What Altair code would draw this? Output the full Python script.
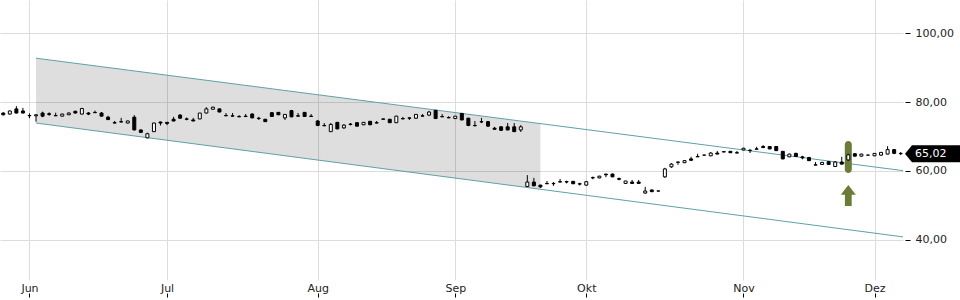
import altair as alt
import pandas as pd

# ---------------- data ----------------
opens = [76.8, 76.5, 78.0, 77.4, 76.1, 76.0, 76.8, 76.6, 76.1, 75.9,
         76.3, 77.3, 76.5, 76.8, 77.0, 76.8, 75.6, 74.0, 74.3, 73.9,
         75.6, 71.9, 69.6, 71.4, 74.2, 74.1, 75.0, 76.2, 75.1, 74.8,
         75.1, 76.8, 77.9, 78.0, 76.1, 76.0, 75.8, 75.9, 76.5, 75.3,
         75.0, 76.9, 77.0, 75.4, 77.5, 76.0, 77.0, 75.9, 74.5, 73.2,
         71.4, 74.1, 72.5, 73.6, 74.0, 73.4, 74.4, 74.0, 75.1, 75.0,
         74.0, 75.2, 75.4, 75.3, 76.0, 76.2, 77.6, 75.8, 75.5, 75.2,
         76.7, 75.3, 73.2, 74.3, 74.3, 72.4, 72.8, 72.8, 72.8, 71.9,
         55.5, 56.8, 55.9, 56.4, 56.4, 56.9, 56.9, 57.0, 56.3, 55.9,
         58.1, 58.0, 59.1, 59.1, 57.8, 56.4, 56.8, 56.8, 53.6, 54.5,
         54.2, 58.3, 61.2, 62.6, 62.4, 63.5, 64.2, 64.6, 64.4, 65.2,
         65.6, 65.7, 65.3, 66.1, 66.0, 66.4, 67.1, 67.1, 67.1, 65.7,
         64.1, 65.1, 64.1, 63.9, 61.8, 61.9, 62.7, 61.3, 62.6, 63.2,
         65.0, 64.3, 64.6, 64.4, 64.6, 64.9, 66.2, 65.1]
highs = [77.0, 77.5, 78.8, 78.3, 76.7, 76.4, 77.2, 77.0, 76.9, 76.6,
         77.0, 77.5, 78.3, 77.1, 77.5, 77.1, 76.0, 74.5, 75.4, 74.6,
         76.2, 72.0, 71.1, 74.0, 74.3, 74.2, 75.7, 76.5, 75.5, 75.4,
         76.8, 78.5, 78.6, 78.1, 76.8, 76.8, 76.2, 76.5, 76.8, 75.7,
         75.1, 77.1, 77.1, 76.5, 77.7, 76.8, 77.1, 76.5, 74.8, 73.9,
         73.9, 74.2, 73.6, 73.9, 74.2, 74.2, 74.5, 74.5, 75.1, 75.1,
         76.0, 75.7, 75.5, 76.5, 76.5, 77.4, 77.7, 76.5, 75.9, 75.9,
         76.8, 75.4, 74.5, 75.4, 74.5, 72.8, 73.0, 73.9, 73.9, 73.3,
         58.8, 58.0, 56.0, 57.1, 56.8, 57.7, 57.2, 57.1, 56.6, 57.1,
         58.4, 58.6, 59.2, 59.3, 58.1, 57.1, 57.4, 57.4, 55.4, 54.6,
         54.3, 60.9, 62.3, 62.7, 63.2, 64.1, 65.0, 64.7, 65.5, 65.8,
         65.8, 65.8, 65.8, 66.7, 66.4, 67.0, 67.5, 67.2, 67.2, 65.8,
         65.0, 65.3, 64.4, 64.1, 62.6, 62.6, 62.9, 62.9, 64.1, 65.0,
         65.2, 65.0, 64.7, 65.2, 65.5, 67.2, 66.4, 65.5]
lows = [76.1, 76.4, 76.7, 76.7, 75.3, 74.3, 75.6, 76.0, 75.9, 75.8,
        76.2, 76.7, 76.4, 76.2, 76.8, 75.8, 74.8, 73.8, 74.1, 73.8,
        71.8, 71.0, 69.5, 71.3, 73.2, 73.3, 74.4, 75.2, 74.7, 74.4,
        75.0, 76.7, 77.9, 77.0, 75.9, 75.8, 75.6, 75.6, 75.3, 74.8,
        74.2, 75.7, 76.2, 74.8, 75.6, 75.8, 75.7, 75.7, 73.0, 73.0,
        71.3, 72.1, 72.2, 73.2, 72.9, 73.3, 73.3, 73.8, 75.0, 73.9,
        73.9, 75.0, 74.8, 75.1, 75.9, 75.9, 75.1, 75.6, 75.3, 75.1,
        74.7, 73.0, 73.0, 73.9, 72.8, 71.9, 71.6, 71.8, 71.3, 71.3,
        55.4, 55.6, 55.1, 56.2, 55.7, 56.7, 56.4, 56.2, 55.8, 55.7,
        57.6, 57.9, 58.2, 58.2, 57.3, 56.3, 56.3, 56.3, 53.4, 53.9,
        54.1, 58.0, 60.9, 61.8, 62.3, 63.0, 64.1, 64.5, 64.3, 64.9,
        65.5, 65.2, 65.2, 66.0, 65.2, 66.3, 66.6, 66.3, 65.8, 63.4,
        64.0, 64.1, 63.4, 62.9, 61.7, 61.8, 61.8, 61.2, 61.9, 63.0,
        64.2, 64.2, 64.5, 64.3, 64.4, 64.8, 64.9, 64.6]
closes = [76.3, 77.4, 76.8, 76.8, 76.0, 76.3, 75.9, 76.4, 76.0, 76.5,
          76.8, 76.8, 78.1, 76.5, 76.9, 75.9, 74.9, 73.9, 74.2, 74.5,
          71.9, 71.2, 70.8, 73.9, 73.9, 73.8, 74.5, 75.3, 75.0, 74.5,
          76.8, 78.0, 78.5, 77.1, 76.0, 75.9, 75.7, 75.8, 75.4, 75.2,
          74.3, 75.8, 76.3, 76.4, 75.7, 75.9, 75.8, 75.8, 73.2, 73.1,
          73.5, 72.2, 73.3, 73.5, 73.0, 74.1, 73.4, 73.9, 75.0, 74.0,
          75.9, 75.1, 75.3, 76.4, 75.9, 77.1, 75.2, 75.7, 75.4, 75.9,
          74.8, 73.2, 73.1, 74.2, 73.0, 72.1, 71.8, 71.9, 71.4, 72.8,
          56.8, 55.7, 55.4, 56.3, 56.3, 56.8, 56.8, 56.3, 56.2, 56.9,
          58.0, 58.5, 58.9, 58.3, 57.6, 57.1, 56.4, 56.4, 54.2, 54.0,
          54.2, 60.6, 62.0, 62.5, 63.0, 63.1, 64.1, 64.6, 65.2, 64.9,
          65.5, 65.3, 65.2, 66.6, 65.9, 66.3, 66.8, 66.4, 65.9, 63.5,
          64.9, 64.2, 63.8, 63.0, 61.7, 62.5, 61.9, 62.6, 62.0, 64.7,
          64.3, 64.9, 64.6, 65.1, 65.4, 66.2, 65.1, 65.02]

month_labels = ["Jun", "Jul", "Aug", "Sep", "Okt", "Nov", "Dez"]
month_start_index = [4, 25, 48, 69, 89, 113, 133]
y_ticks = [40, 60, 80, 100]

# trend channel: start/end index and values
channel_x = [5, 137.35]
channel_upper = [92.7, 60.1]
channel_lower = [73.9, 40.9]
band_x = [5, 82]
band_upper = [92.7, 73.7]
band_lower = [73.9, 54.7]

# signal marker
signal_index = 129
signal_bar = [59.4, 68.7]
signal_arrow_value = 52.9

# ---------------- tables ----------------
n = len(closes)
candles = pd.DataFrame({
    "i": list(range(n)), "o": opens, "h": highs, "l": lows, "c": closes,
})
candles["up"] = candles["c"] >= candles["o"]

X_DOMAIN = [-0.5, 137.35]
Y_DOMAIN = [28.4, 109.57]
FONT = "DejaVu Sans"

label_expr = "[{}][indexof([{}], datum.value)]".format(
    ",".join("'%s'" % m for m in month_labels),
    ",".join(str(v) for v in month_start_index))

x_axis = alt.Axis(values=month_start_index, labelExpr=label_expr, title=None,
                  grid=True, gridColor="#dcdcdc", domain=False, ticks=True,
                  tickColor="#000", tickSize=4, offset=13,
                  labelBaseline="alphabetic", labelPadding=-6,
                  labelFont=FONT, labelFontSize=11, labelColor="#222")
y_axis = alt.Axis(values=y_ticks, orient="right", title=None,
                  labelExpr="replace(format(datum.value, '.2f'), '.', ',')",
                  grid=True, gridColor="#dcdcdc", domain=False,
                  tickColor="#000", tickSize=5, offset=2, labelPadding=5,
                  labelFont=FONT, labelFontSize=11, labelColor="#222")


def X(field):
    return alt.X(field, type="quantitative",
                 scale=alt.Scale(domain=X_DOMAIN, nice=False, zero=False,
                                 padding=0),
                 axis=x_axis)


def Y(field):
    return alt.Y(field, type="quantitative",
                 scale=alt.Scale(domain=Y_DOMAIN, nice=False, zero=False,
                                 padding=0),
                 axis=y_axis)


band_df = pd.DataFrame({"x": band_x, "u": band_upper, "lo": band_lower})
band = alt.Chart(band_df).mark_area(color="#000", opacity=0.13).encode(
    x=X("x"), y=Y("u"), y2="lo")

lines_df = pd.DataFrame({
    "x0": [channel_x[0], channel_x[0]], "x1": [channel_x[1], channel_x[1]],
    "y0": [channel_upper[0], channel_lower[0]],
    "y1": [channel_upper[1], channel_lower[1]],
})
lines = alt.Chart(lines_df).mark_rule(color="#5fa0a6", strokeWidth=1).encode(
    x=X("x0"), x2="x1", y=Y("y0"), y2="y1")

sig_df = pd.DataFrame({"i": [signal_index], "b": [signal_bar[0]],
                       "t": [signal_bar[1]], "a": [signal_arrow_value]})
sig_bar = alt.Chart(sig_df).mark_bar(size=7, cornerRadius=3.5,
                                     color="#6b7c36").encode(
    x=X("i"), y=Y("b"), y2="t")
arrow_path = "M0,-1.4L1,-0.1L0.45,-0.1L0.45,1.4L-0.45,1.4L-0.45,-0.1L-1,-0.1Z"
sig_arrow = alt.Chart(sig_df).mark_point(shape=arrow_path, size=225,
                                         filled=True, color="#6b7c36",
                                         opacity=1).encode(
    x=X("i"), y=Y("a"))

wicks = alt.Chart(candles).mark_rule(color="#000", strokeWidth=1).encode(
    x=X("i"), y=Y("l"), y2="h")
bodies = alt.Chart(candles).mark_bar(size=3, stroke="#000",
                                     strokeWidth=1).encode(
    x=X("i"), y=Y("o"), y2="c",
    fill=alt.condition("datum.up", alt.value("#ffffff"), alt.value("#000000")))

last_df = pd.DataFrame({"v": [closes[-1]],
                        "t": [f"{closes[-1]:.2f}".replace(".", ",")]})
tag_path = "M0,0L7,-8.5L60,-8.5L60,8.5L7,8.5Z"
tag = alt.Chart(last_df).mark_point(shape=tag_path, size=4, filled=True,
                                    color="#000", opacity=1).encode(
    x=alt.value(905), y=Y("v"))
tag_text = alt.Chart(last_df).mark_text(align="left", baseline="middle",
                                        color="#fff", font=FONT,
                                        fontSize=11).encode(
    x=alt.value(915), y=Y("v"), text="t:N")

chart = alt.layer(band, lines, sig_bar, sig_arrow, wicks, bodies, tag,
                  tag_text).properties(
    width=903, height=280, background="#ffffff",
    autosize=alt.AutoSizeParams(type="none"),
    padding={"left": 0, "top": 0, "right": 57, "bottom": 20},
).configure_view(stroke=None)

chart.save("out.html", embed_options={"renderer": "svg", "actions": False})
